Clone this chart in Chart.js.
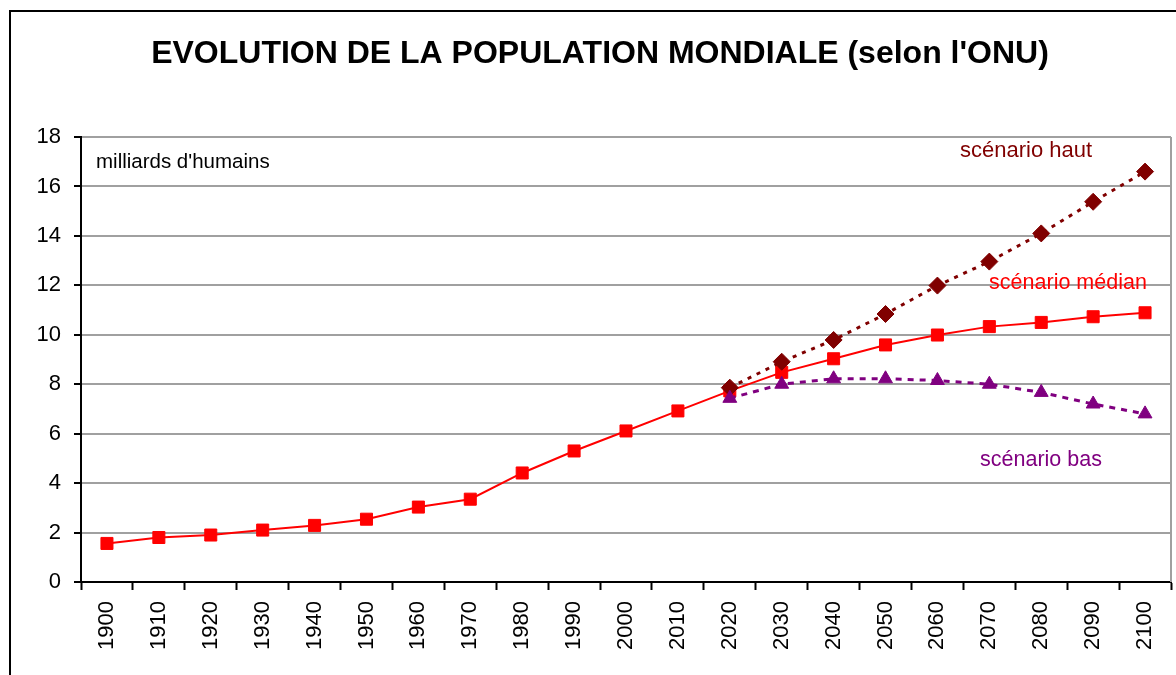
<!DOCTYPE html>
<html>
<head>
<meta charset="utf-8">
<script src="https://cdn.jsdelivr.net/npm/chart.js@4/dist/chart.umd.min.js"></script>
<style>
html,body{margin:0;padding:0;background:#fff;}
#wrap{width:1176px;height:675px;position:relative;}
</style>
</head>
<body>
<div id="wrap"><canvas id="c" width="1176" height="675"></canvas></div>
<script>
const years = ['1900','1910','1920','1930','1940','1950','1960','1970','1980','1990','2000','2010','2020','2030','2040','2050','2060','2070','2080','2090','2100'];
const median = [1.56,1.8,1.9,2.1,2.29,2.54,3.03,3.35,4.41,5.3,6.11,6.92,7.73,8.48,9.03,9.59,9.99,10.33,10.5,10.73,10.89];
const high = [null,null,null,null,null,null,null,null,null,null,null,null,7.86,8.91,9.79,10.84,11.99,12.96,14.1,15.38,16.6];
const low = [null,null,null,null,null,null,null,null,null,null,null,null,7.43,8.0,8.22,8.22,8.15,8.0,7.67,7.2,6.8];
const yTicks = [0,2,4,6,8,10,12,14,16,18];
const titleText = "EVOLUTION DE LA POPULATION MONDIALE (selon l'ONU)";
const notes = [
  {text:"milliards d'humains", color:'#000000', x:96, y:162, align:'left', size:20.5},
  {text:'scénario haut', color:'#800000', x:1026, y:151, align:'center', size:22},
  {text:'scénario médian', color:'#FF0000', x:1068, y:283, align:'center', size:21.5},
  {text:'scénario bas', color:'#800080', x:1041, y:460, align:'center', size:21.5}
];
const FONT = "'Liberation Sans', Arial, sans-serif";

const deco = {
  id:'deco',
  beforeDraw(chart){
    const ctx = chart.ctx;
    ctx.save();
    ctx.fillStyle='#fff';
    ctx.fillRect(0,0,chart.width,chart.height);
    ctx.strokeStyle='#000';
    ctx.lineWidth=2;
    ctx.strokeRect(10,11,1200,700);
    ctx.fillStyle='#000';
    ctx.font = "bold 32px " + FONT;
    ctx.textAlign='center';
    ctx.textBaseline='middle';
    ctx.fillText(titleText, 600, 54);
    ctx.restore();
  },
  afterDraw(chart){
    const ctx = chart.ctx, a = chart.chartArea;
    ctx.save();
    ctx.strokeStyle='#A0A0A0';
    ctx.lineWidth=2;
    ctx.beginPath();
    ctx.moveTo(a.right, a.top); ctx.lineTo(a.right, a.bottom);
    ctx.stroke();
    ctx.textBaseline='middle';
    for(const n of notes){
      ctx.font = n.size + "px " + FONT;
      ctx.fillStyle = n.color;
      ctx.textAlign = n.align;
      ctx.fillText(n.text, n.x, n.y);
    }
    ctx.restore();
  }
};

new Chart(document.getElementById('c'), {
  type:'line',
  data:{
    labels: years,
    datasets:[
      {label:'bas', data:low, borderColor:'#800080', backgroundColor:'#800080', borderWidth:3, borderDash:[6,6],
       pointStyle:'triangle', pointRadius:8, pointBorderWidth:1, pointBorderColor:'#800080', pointBackgroundColor:'#800080'},
      {label:'haut', data:high, borderColor:'#800000', backgroundColor:'#800000', borderWidth:3, borderDash:[4,6],
       pointStyle:'rectRot', pointRadius:8.5, pointBorderWidth:1, pointBorderColor:'#800000', pointBackgroundColor:'#800000'},
      {label:'median', data:median, borderColor:'#FF0000', backgroundColor:'#FF0000', borderWidth:2,
       pointStyle:'rect', pointRadius:8.5, pointBorderWidth:1, pointBorderColor:'#FF0000', pointBackgroundColor:'#FF0000'}
    ]
  },
  options:{
    responsive:false,
    animation:false,
    layout:{autoPadding:false, padding:{top:137,right:5,left:0,bottom:0}},
    plugins:{legend:{display:false}, tooltip:{enabled:false}, title:{display:false}},
    elements:{line:{tension:0}},
    scales:{
      x:{
        type:'category',
        offset:true,
        grid:{offset:true, drawOnChartArea:false, drawTicks:true, tickLength:8, tickColor:'#000', tickWidth:2},
        border:{color:'#000', width:2},
        ticks:{autoSkip:false, maxRotation:90, minRotation:90, padding:11, color:'#000', font:{family:FONT, size:22}},
        afterFit(s){ s.height = 93; s.paddingRight = 0; s.paddingLeft = 0; }
      },
      y:{
        min:0, max:18,
        afterBuildTicks(s){ s.ticks = yTicks.map(v=>({value:v})); },
        grid:{color:'#A0A0A0', lineWidth:2, tickLength:7, tickColor:'#000', tickWidth:2},
        border:{color:'#000', width:2},
        ticks:{padding:13, color:'#000', font:{family:FONT, size:22}},
        afterFit(s){ s.width = 81; }
      }
    }
  },
  plugins:[deco]
});
</script>
</body>
</html>
